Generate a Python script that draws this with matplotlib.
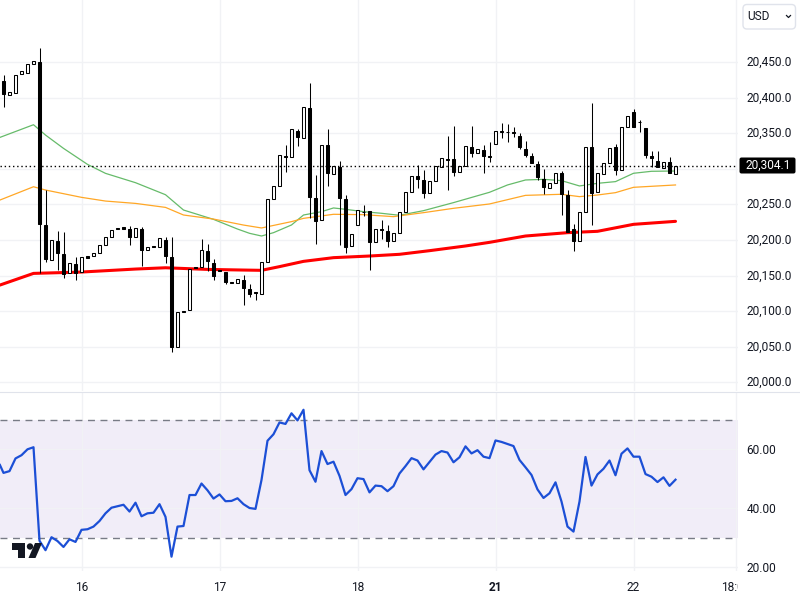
import matplotlib
matplotlib.use("Agg")
import matplotlib.pyplot as plt
from matplotlib.patches import FancyBboxPatch, Polygon, Circle
from matplotlib.transforms import ScaledTranslation

# candles: bar index 0 is the first bar of the 16th
bar_index = list(range(-13, 100))
opens = [20423.7, 20404.0, 20406.9, 20432.6, 20435.0, 20446.7, 20450.0, 20221.0, 20172.3, 20199.0,
         20180.3, 20154.0, 20166.2, 20155.5, 20177.0, 20178.0, 20181.2, 20192.4, 20203.7, 20216.8,
         20217.7, 20215.4, 20203.7, 20215.4, 20185.4, 20191.5, 20189.6, 20199.9, 20176.0, 20050.1,
         20100.0, 20101.2, 20161.5, 20161.5, 20184.5, 20167.2, 20157.8, 20155.0, 20140.5, 20140.0,
         20143.7, 20131.1, 20127.0, 20123.6, 20168.6, 20257.1, 20275.4, 20318.0, 20316.1, 20353.1,
         20342.8, 20385.4, 20259.0, 20227.6, 20333.0, 20293.2, 20302.6, 20257.1, 20191.0, 20220.6,
         20239.0, 20240.3, 20196.8, 20215.0, 20212.2, 20198.2, 20209.4, 20239.8, 20267.0, 20289.9,
         20283.8, 20265.6, 20282.9, 20303.0, 20313.3, 20313.3, 20295.0, 20304.4, 20330.2, 20321.7,
         20326.4, 20318.0, 20334.4, 20352.2, 20352.2, 20351.0, 20346.1, 20327.4, 20318.0, 20306.8,
         20285.2, 20273.5, 20279.6, 20293.7, 20263.2, 20215.0, 20198.1, 20239.8, 20330.2, 20266.9,
         20292.3, 20308.6, 20330.2, 20297.9, 20358.3, 20379.8, 20366.0, 20356.9, 20318.0, 20311.0,
         20300.7, 20309.1, 20292.2]
closes = [20405.0, 20408.0, 20431.2, 20436.8, 20446.7, 20450.9, 20222.4, 20173.3, 20199.5, 20182.1,
          20152.2, 20167.2, 20153.1, 20175.6, 20175.1, 20181.2, 20192.4, 20203.7, 20213.5, 20215.9,
          20215.9, 20204.2, 20216.3, 20185.9, 20189.6, 20190.6, 20202.3, 20177.5, 20050.1, 20098.3,
          20099.3, 20159.7, 20160.6, 20185.4, 20170.9, 20149.8, 20156.9, 20141.4, 20140.0, 20144.7,
          20132.5, 20124.6, 20126.0, 20168.6, 20257.1, 20275.4, 20318.9, 20317.0, 20355.5, 20345.2,
          20386.4, 20260.9, 20227.2, 20333.9, 20294.6, 20303.5, 20259.5, 20190.6, 20208.0, 20242.6,
          20239.5, 20197.7, 20215.0, 20214.5, 20199.0, 20209.4, 20239.8, 20267.0, 20290.4, 20285.7,
          20266.5, 20283.4, 20304.4, 20314.7, 20313.0, 20296.0, 20304.4, 20332.5, 20322.7, 20327.4,
          20318.5, 20317.0, 20353.6, 20352.5, 20352.0, 20350.5, 20330.2, 20319.4, 20308.6, 20289.0,
          20274.9, 20279.6, 20293.7, 20264.6, 20210.8, 20198.6, 20239.8, 20331.1, 20266.5, 20293.7,
          20308.6, 20329.7, 20298.3, 20359.2, 20374.6, 20359.2, 20365.5, 20319.9, 20314.7, 20303.0,
          20310.0, 20294.6, 20304.1]
highs = [20431.7, 20408.0, 20431.2, 20436.8, 20446.7, 20450.9, 20469.0, 20270.2, 20199.5, 20212.6,
         20211.2, 20167.2, 20175.6, 20175.6, 20177.0, 20181.2, 20192.4, 20203.7, 20213.5, 20216.8,
         20217.7, 20219.6, 20216.3, 20218.7, 20189.6, 20191.5, 20202.3, 20204.1, 20204.1, 20098.3,
         20100.0, 20159.7, 20161.5, 20202.0, 20193.8, 20173.3, 20157.8, 20155.0, 20140.5, 20144.7,
         20150.8, 20138.1, 20127.4, 20168.6, 20257.1, 20275.4, 20318.9, 20333.5, 20355.5, 20355.5,
         20386.4, 20420.0, 20291.3, 20333.9, 20355.5, 20303.5, 20311.0, 20262.8, 20208.0, 20242.6,
         20249.2, 20240.3, 20215.0, 20228.1, 20221.1, 20209.4, 20239.8, 20267.0, 20290.4, 20305.4,
         20298.3, 20283.4, 20304.4, 20314.7, 20346.1, 20360.1, 20304.4, 20332.5, 20360.1, 20327.4,
         20333.0, 20338.1, 20353.6, 20364.8, 20362.5, 20358.3, 20349.8, 20339.0, 20321.7, 20311.4,
         20299.3, 20279.6, 20293.7, 20297.4, 20270.2, 20222.0, 20239.8, 20331.1, 20392.0, 20293.7,
         20308.6, 20329.7, 20334.9, 20359.2, 20374.6, 20384.0, 20368.6, 20356.9, 20325.5, 20325.5,
         20310.0, 20317.0, 20304.1]
lows = [20387.2, 20404.0, 20406.9, 20432.6, 20435.0, 20446.7, 20154.0, 20169.5, 20172.3, 20157.8,
        20146.6, 20154.0, 20143.7, 20155.5, 20175.1, 20178.0, 20181.2, 20192.4, 20203.7, 20215.9,
        20215.9, 20192.9, 20203.7, 20163.4, 20185.4, 20190.6, 20189.6, 20167.2, 20042.6, 20050.1,
        20099.3, 20101.2, 20160.6, 20161.5, 20156.9, 20143.7, 20156.9, 20138.1, 20140.0, 20140.0,
        20108.6, 20120.4, 20115.7, 20123.6, 20168.6, 20257.1, 20275.4, 20296.0, 20316.1, 20332.0,
        20342.8, 20231.4, 20194.4, 20227.6, 20275.9, 20293.2, 20193.0, 20182.2, 20191.0, 20220.6,
        20234.2, 20157.9, 20196.8, 20201.0, 20190.6, 20198.2, 20209.4, 20239.8, 20267.0, 20272.6,
        20259.5, 20265.6, 20282.9, 20303.0, 20270.2, 20289.9, 20295.0, 20304.4, 20317.1, 20321.7,
        20293.7, 20310.0, 20334.4, 20342.8, 20338.1, 20345.2, 20327.4, 20317.1, 20308.6, 20284.3,
        20264.6, 20273.5, 20279.6, 20235.1, 20210.8, 20184.6, 20198.1, 20239.8, 20221.1, 20266.9,
        20292.3, 20308.6, 20291.3, 20297.9, 20358.3, 20359.2, 20352.2, 20315.7, 20303.0, 20303.0,
        20300.7, 20294.6, 20292.2]

# moving averages, read at the bends
ma_fast_x = [-13.6, -8, -6, -3, 1, 4, 9, 14, 17, 22, 26, 28, 30, 32, 35, 37, 40, 42, 44, 47, 50, 53, 57, 62, 68, 71, 74, 77, 80, 83, 86, 89, 92, 95, 99]
ma_fast = [20344.1, 20361.9, 20347.4, 20328.7, 20306.2, 20293.6, 20280.5, 20263.6, 20242.1, 20229.0, 20215.4, 20209.4, 20205.6, 20210.3, 20221.1, 20235.1, 20239.8, 20245.0, 20243.1, 20239.8, 20237.5, 20234.7, 20241.2, 20252.5, 20267.0, 20277.3, 20284.3, 20285.2, 20283.4, 20275.9, 20279.6, 20282.0, 20293.7, 20296.5, 20296.9]
ma_mid_x = [-13.6, -8, -6, 0, 4, 9, 14, 17, 22, 27, 30, 35, 37, 42, 47, 52, 57, 62, 68, 74, 80, 83, 86, 89, 92, 99]
ma_mid = [20256.1, 20274.8, 20270.2, 20259.9, 20254.7, 20251.4, 20245.8, 20235.1, 20229.4, 20221.0, 20216.9, 20225.8, 20230.4, 20236.1, 20235.6, 20232.8, 20238.4, 20244.5, 20250.6, 20262.7, 20264.2, 20260.9, 20263.2, 20266.5, 20274.0, 20277.3]
ma_slow_x = [-13.6, -8, 0, 9, 14, 21, 27, 30, 33, 37, 42, 48, 53, 58, 64, 68, 74, 81, 86, 92, 99]
ma_slow = [20136.7, 20153.1, 20155.0, 20159.2, 20161.0, 20158.7, 20157.8, 20157.4, 20162.6, 20170.0, 20175.2, 20177.5, 20179.9, 20185.0, 20191.6, 20196.7, 20205.6, 20210.3, 20212.2, 20222.0, 20226.2]

rsi_x = [-13.6] + bar_index
rsi = [54.7, 52.0, 52.6, 56.9, 58.0, 60.0, 60.7, 29.0, 25.8, 30.2, 28.9, 26.9, 29.5, 28.6, 32.7, 32.9, 33.8, 35.7, 38.3, 40.2,
       40.7, 41.2, 38.9, 41.9, 37.3, 38.3, 38.5, 41.4, 37.1, 23.6, 33.8, 34.0, 44.5, 44.5, 48.4, 46.1, 43.3, 44.7, 42.4, 42.5,
       43.4, 41.4, 40.1, 39.8, 49.6, 62.9, 65.1, 69.1, 68.6, 72.2, 69.8, 73.4, 52.9, 49.0, 59.4, 55.0, 55.8, 51.0, 44.5, 46.5,
       50.2, 49.9, 45.4, 47.7, 47.5, 45.8, 47.5, 51.8, 54.3, 57.0, 56.2, 53.2, 55.7, 58.2, 59.4, 58.9, 55.6, 57.3, 61.0, 58.6,
       59.7, 57.5, 57.0, 63.0, 62.5, 61.8, 61.1, 56.4, 53.9, 51.3, 46.4, 43.5, 45.1, 48.8, 42.3, 33.8, 32.1, 42.3, 57.4, 47.7,
       51.5, 53.4, 56.2, 51.2, 58.5, 60.3, 57.5, 57.5, 51.6, 50.7, 48.9, 50.5, 47.6, 49.7]

price_ticks = [20000, 20050, 20100, 20150, 20200, 20250, 20300, 20350, 20400, 20450]
price_labels = ["20,000.0", "20,050.0", "20,100.0", "20,150.0", "20,200.0", "20,250.0", "", "20,350.0", "20,400.0", "20,450.0"]
rsi_ticks = [20, 40, 60]
rsi_labels = ["20.00", "40.00", "60.00"]
day_ticks = [0, 23, 46, 69, 92, 109]
day_labels = ["16", "17", "18", "21", "22", "18:00"]
last_price = 20304.1

W, H = 800, 600
PANE_W = 738
GRID = "#f1f2f5"
TEXT = "#131722"
plt.rcParams["font.family"] = ["Roboto", "DejaVu Sans"]

fig = plt.figure(figsize=(8, 6), dpi=100, facecolor="white")


def pane(top, bottom):
    return fig.add_axes([0, 1 - bottom / H, PANE_W / W, (bottom - top) / H])


ax = pane(0, 391)
ax2 = pane(392, 571)

# x: 6 px a bar, first bar of the 16th at px 81.5
xlim = (-81.5 / 6, (PANE_W - 81.5) / 6)
for a in (ax, ax2):
    a.set_xlim(xlim)
    a.set_xticks(day_ticks)
    a.grid(True, color=GRID, linewidth=1)
    a.set_axisbelow(True)
    a.yaxis.tick_right()
    a.tick_params(length=0, labelsize=8.6, labelcolor=TEXT, pad=6)
    for s in a.spines.values():
        s.set_visible(False)

# y: 62 px is 20450, 0.712 px per point
ax.set_ylim(20450 - (391 - 62) / 0.712, 20450 + 62 / 0.712)
ax.set_yticks(price_ticks)
ax.set_yticklabels(price_labels)
ax.tick_params(axis="x", labelbottom=False)

ax.plot(ma_fast_x, ma_fast, color="#66bb6a", lw=0.9, zorder=2)
ax.plot(ma_mid_x, ma_mid, color="#ffa726", lw=0.9, zorder=2)
ax.plot(ma_slow_x, ma_slow, color="#ff0000", lw=2.2, zorder=2, solid_capstyle="round")

for i, o, c, h, l in zip(bar_index, opens, closes, highs, lows):
    up = c >= o
    ax.vlines(i, l, h, color="black", lw=0.75, zorder=3)
    ax.bar(i, abs(c - o), bottom=min(o, c), width=0.55 if up else 0.42,
           facecolor="white" if up else "black", edgecolor="black", linewidth=0.75, zorder=4)

ax.axhline(last_price, color="black", lw=1, ls=(0, (1, 2)), zorder=5)

# rsi pane: 60 sits at px 449.3, 2.95 px per point
ax2.set_ylim(60 - (571 - 449.3) / 2.95, 60 + (449.3 - 392) / 2.95)
ax2.set_yticks(rsi_ticks)
ax2.set_yticklabels(rsi_labels)
ax2.axhspan(30, 70, color="#7e57c2", alpha=0.1, lw=0, zorder=0.5)
ax2.axhline(70, color="#787b86", lw=1, ls=(0, (5, 4)), zorder=2)
ax2.axhline(30, color="#787b86", lw=1, ls=(0, (5, 4)), zorder=2)
ax2.plot(rsi_x, rsi, color="#1c4fd6", lw=1.6, zorder=3)
ax2.set_xticklabels(day_labels)
ax2.tick_params(axis="x", pad=7)
ax2.get_xticklabels()[day_labels.index("21")].set_fontweight("bold")

# price labels sit a little above their grid lines
nudge = ScaledTranslation(0, 0.013, fig.dpi_scale_trans)
for lab in ax.get_yticklabels():
    lab.set_transform(lab.get_transform() + nudge)

# overlay in pixel coordinates for the separator, button, price tag and logo
over = fig.add_axes([0, 0, 1, 1], facecolor="none")
over.set_xlim(0, W)
over.set_ylim(H, 0)
over.axis("off")
over.add_patch(plt.Rectangle((738, 575), 62, 25, fc="white", ec="none"))
over.plot([0, W], [391.5, 391.5], color="#e0e3eb", lw=0.8)

over.add_patch(FancyBboxPatch((743, 4.5), 52.5, 24.5, boxstyle="round,pad=0,rounding_size=4",
                              fc="white", ec="#e0e3eb", lw=1))
over.text(747, 17, "USD", fontsize=8.6, color=TEXT, va="center", ha="left")
over.plot([786.5, 788.5, 790.5], [15.5, 17.5, 15.5], color=TEXT, lw=0.9)

over.add_patch(FancyBboxPatch((739.5, 157.5), 56, 16, boxstyle="round,pad=0,rounding_size=2",
                              fc="black", ec="none"))
over.text(768, 165.5, "20,304.1", fontsize=8.6, color="white", va="center", ha="center")

over.add_patch(Polygon([(12, 543), (25, 543), (25, 558), (18, 558), (18, 549.5), (12, 549.5)], fc=TEXT, ec="none"))
over.add_patch(Circle((30, 546.5), 3.2, fc=TEXT, ec="none"))
over.add_patch(Polygon([(35, 543), (42, 543), (35.5, 558), (28.5, 558)], fc=TEXT, ec="none"))

fig.savefig("out.png", dpi=100)
